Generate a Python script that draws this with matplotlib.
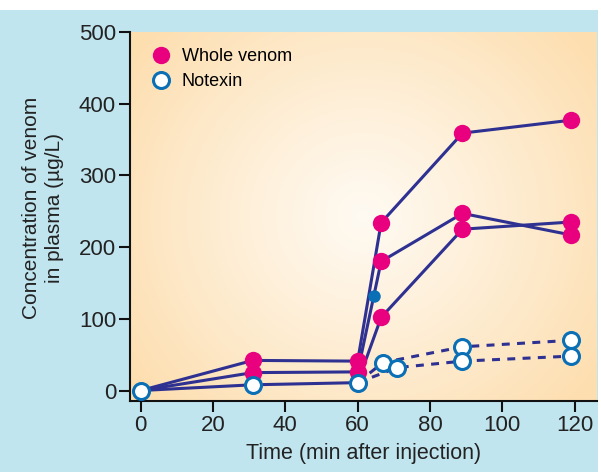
import numpy as np
import matplotlib.pyplot as plt
from matplotlib.lines import Line2D
from matplotlib.patches import Rectangle

# time points (min after injection)
t_venom = [0, 31, 60, 66.5, 89, 119]
venom_a = [0, 42, 41, 234, 359, 377]
venom_b = [0, 25, 26, 180, 247, 217]
venom_c = [0, 8, 11, 102, 225, 235]

t_notex_1 = [60, 67, 89, 119]
notex_1 = [11, 39, 61, 70]
t_notex_2 = [60, 71, 89, 119]
notex_2 = [11, 32, 41, 48]

t_extra = [64.5]
extra_val = [132]

xticks = [0, 20, 40, 60, 80, 100, 120]
yticks = [0, 100, 200, 300, 400, 500]

line_col = "#2e3192"
pink = "#e8007f"
ring = "#0a6fb5"
bg_blue = "#c1e5ef"

plt.rcParams["font.family"] = ["Liberation Sans", "DejaVu Sans"]

fig = plt.figure(figsize=(6.01, 4.72), dpi=100, facecolor="white")
fig.patches.append(Rectangle((0, 0), 598 / 601, 462 / 472, transform=fig.transFigure,
                             facecolor=bg_blue, edgecolor="none", zorder=-10))

ax = fig.add_axes([130 / 601, 71 / 472, 467 / 601, 369 / 472])
ax.set_xlim(-2.96, 126.2)
ax.set_ylim(-14.6, 500)

# radial peach gradient behind the data
gx, gy = np.meshgrid(np.linspace(0, 1, 300), np.linspace(0, 1, 300))
r = np.sqrt(((gx - 0.5) / 0.62) ** 2 + ((gy - 0.5) / 0.75) ** 2)
r = np.clip(r, 0, 1) ** 1.1
inner = np.array([255, 250, 242]) / 255
outer = np.array([253, 222, 175]) / 255
img = inner[None, None, :] * (1 - r[..., None]) + outer[None, None, :] * r[..., None]
ax.imshow(img, extent=[0, 1, 0, 1], transform=ax.transAxes, origin="lower",
          aspect="auto", zorder=0, interpolation="bilinear")

lw = 2.2
ms_full = 12.5
ms_open = 11.5

# notexin dashed lines
for tt, vv in [(t_notex_1, notex_1), (t_notex_2, notex_2)]:
    ax.plot(tt, vv, color=line_col, lw=lw, ls=(0, (2.6, 2.4)), zorder=2)
    ax.plot(tt[1:], vv[1:], ls="none", marker="o", ms=ms_open, mfc="white",
            mec=ring, mew=2.2, zorder=4)

# whole venom solid lines
for vv in [venom_a, venom_b, venom_c]:
    ax.plot(t_venom, vv, color=line_col, lw=lw, zorder=3)

for vv in [venom_a, venom_b]:
    ax.plot(t_venom[1:], vv[1:], ls="none", marker="o", ms=ms_full, color=pink,
            mec="none", zorder=5)
ax.plot(t_venom[3:], venom_c[3:], ls="none", marker="o", ms=ms_full, color=pink,
        mec="none", zorder=5)
ax.plot(t_venom[:3], venom_c[:3], ls="none", marker="o", ms=ms_open, mfc="white",
        mec=ring, mew=2.2, zorder=6)

ax.plot(t_extra, extra_val, ls="none", marker="o", ms=9, color=ring, mec="none", zorder=5)

for s in ["top", "right"]:
    ax.spines[s].set_visible(False)
for s in ["left", "bottom"]:
    ax.spines[s].set_linewidth(1.5)
    ax.spines[s].set_color("#111111")

ax.set_xticks(xticks)
ax.set_yticks(yticks)
ax.tick_params(axis="both", labelsize=16, width=1.5, length=8, color="#111111",
               labelcolor="#222222", pad=2)

ax.set_xlabel("Time (min after injection)", fontsize=15.5, color="#222222", labelpad=5)
fig.text(43 / 601, 1 - 208 / 472, "Concentration of venom\nin plasma (µg/L)",
         rotation=90, ha="center", va="center", multialignment="center",
         fontsize=15, color="#222222", linespacing=1.3)

handles = [
    Line2D([], [], ls="none", marker="o", ms=ms_full, color=pink, mec="none"),
    Line2D([], [], ls="none", marker="o", ms=ms_open, mfc="white", mec=ring, mew=2.2),
]
ax.legend(handles, ["Whole venom", "Notexin"], loc="upper left",
          bbox_to_anchor=(0.005, 0.985), frameon=False, fontsize=13,
          handletextpad=0.15, labelspacing=0.45, borderaxespad=0.2)

fig.savefig("out.png", dpi=100, facecolor=fig.get_facecolor())
